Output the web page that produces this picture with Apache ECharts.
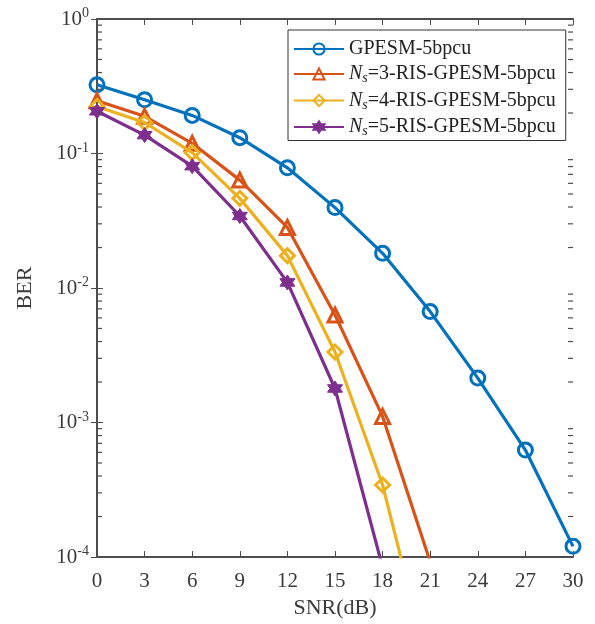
<!DOCTYPE html>
<html>
<head>
<meta charset="utf-8">
<script src="https://cdn.jsdelivr.net/npm/echarts@6/dist/echarts.min.js"></script>
<style>
  html, body { margin: 0; padding: 0; background: #fff; }
  #chart { width: 595px; height: 624px; }
</style>
</head>
<body>
<div id="chart"></div>
<script>
// SNR axis (dB)
const snr = [0, 3, 6, 9, 12, 15, 18, 21, 24, 27, 30]
const seriesNames = ['GPESM-5bpcu', 'Ns3', 'Ns4', 'Ns5']
// BER, points below 1e-4 are clipped by the axis
const berGpesm = [0.324, 0.251, 0.192, 0.131, 0.0783, 0.0396, 0.0181, 0.00668, 0.00214, 0.000624, 0.00012]
const berNs3 = [0.247, 0.189, 0.119, 0.0634, 0.0282, 0.0063, 0.00111, 0.000092, null, null, null]
const berNs4 = [0.224, 0.17, 0.1016, 0.0464, 0.0174, 0.00334, 0.000343, 0.0000135, null, null, null]
const berNs5 = [0.206, 0.137, 0.0805, 0.0343, 0.011, 0.00179, 0.000084, null, null, null, null]
const lineColor = ['#0072BD', '#D95319', '#EDB120', '#7E2F8E']
const legendText = {
  'GPESM-5bpcu': 'GPESM-5bpcu',
  'Ns3': '{i|N}{sub|s}=3-RIS-GPESM-5bpcu',
  'Ns4': '{i|N}{sub|s}=4-RIS-GPESM-5bpcu',
  'Ns5': '{i|N}{sub|s}=5-RIS-GPESM-5bpcu'
}

const hexagram = 'path://M10 0L12.89 5L18.66 5L15.77 10L18.66 15L12.89 15L10 20L7.11 15L1.34 15L4.23 10L1.34 5L7.11 5Z'
const font = 'Liberation Serif'
const axisColor = '#4d4d4d'
const textColor = '#3a3a3a'

// minor log ticks 2..9 x 10^n
const minorTicks = []
for (let e = -4; e < 0; e++) {
  for (let k = 2; k <= 9; k++) {
    minorTicks.push([15, k * Math.pow(10, e)])
  }
}

function pairs(ys) {
  return snr.map((x, i) => [x, ys[i]])
}

function makeSeries(name, ys, i, symbol, filled) {
  return {
    name: name,
    type: 'line',
    data: pairs(ys),
    symbol: symbol,
    symbolSize: filled ? 15 : 14,
    showAllSymbol: true,
    clip: true,
    lineStyle: { color: lineColor[i], width: 3.2 },
    itemStyle: {
      color: filled ? lineColor[i] : 'rgba(255,255,255,0)',
      borderColor: lineColor[i],
      borderWidth: filled ? 1 : 3
    },
    z: 3 + i
  }
}

const chart = echarts.init(document.getElementById('chart'))

const commonY = {
  type: 'log',
  logBase: 10,
  min: 1e-4,
  max: 1,
  axisLine: { show: true, lineStyle: { color: axisColor, width: 2 } },
  axisTick: { show: true, inside: true, length: 6, lineStyle: { color: axisColor, width: 1 } },
  splitLine: { show: false }
}

const commonX = {
  type: 'value',
  min: 0,
  max: 30,
  interval: 3,
  axisLine: { show: true, lineStyle: { color: axisColor, width: 2 } },
  axisTick: { show: true, inside: true, length: 6, lineStyle: { color: axisColor, width: 1 } },
  splitLine: { show: false }
}

chart.setOption({
  backgroundColor: '#fff',
  animation: false,
  grid: { left: 97, right: 22, top: 19, bottom: 65 },
  legend: {
    data: seriesNames,
    orient: 'vertical',
    left: 288,
    top: 30,
    padding: [9, 10, 2, 5],
    itemWidth: 50,
    itemHeight: 14,
    itemGap: 5,
    borderColor: '#333',
    borderWidth: 1,
    backgroundColor: '#fff',
    formatter: function (name) {
      return legendText[name]
    },
    textStyle: {
      fontFamily: font,
      fontSize: 20,
      color: '#222',
      rich: {
        i: { fontFamily: font, fontSize: 20, fontStyle: 'italic', color: '#222' },
        sub: { fontFamily: font, fontSize: 14, fontStyle: 'italic', color: '#222', verticalAlign: 'bottom', padding: [9, 0, 0, 0] }
      }
    }
  },
  xAxis: [
    Object.assign({}, commonX, {
      position: 'bottom',
      name: 'SNR(dB)',
      nameLocation: 'middle',
      nameGap: 40,
      nameTextStyle: { fontFamily: font, fontSize: 22, color: textColor },
      axisLabel: { fontFamily: font, fontSize: 21, color: textColor, margin: 14 }
    }),
    Object.assign({}, commonX, {
      position: 'top',
      axisLabel: { show: false }
    })
  ],
  yAxis: [
    Object.assign({}, commonY, {
      position: 'left',
      name: 'BER',
      nameLocation: 'middle',
      nameGap: 61,
      nameTextStyle: { fontFamily: font, fontSize: 22, color: textColor },
      axisLabel: {
        margin: 8,
        formatter: function (v) {
          const e = Math.round(Math.log10(v))
          return '{b|10}{s|' + e + '}'
        },
        rich: {
          b: { fontFamily: font, fontSize: 21, color: textColor },
          s: { fontFamily: font, fontSize: 14, color: textColor, padding: [0, 0, 11, 0] }
        }
      }
    }),
    Object.assign({}, commonY, {
      position: 'right',
      axisLabel: { show: false }
    })
  ],
  series: [
    makeSeries(seriesNames[0], berGpesm, 0, 'circle', false),
    makeSeries(seriesNames[1], berNs3, 1, 'triangle', false),
    makeSeries(seriesNames[2], berNs4, 2, 'diamond', false),
    makeSeries(seriesNames[3], berNs5, 3, hexagram, true),
    {
      type: 'custom',
      silent: true,
      clip: false,
      data: minorTicks,
      renderItem: function (params, api) {
        const y = api.coord([api.value(0), api.value(1)])[1]
        const x0 = params.coordSys.x
        const x1 = params.coordSys.x + params.coordSys.width
        const style = { stroke: axisColor, lineWidth: 1.2 }
        return {
          type: 'group',
          children: [
            { type: 'line', shape: { x1: x0, y1: y, x2: x0 + 5, y2: y }, style: style },
            { type: 'line', shape: { x1: x1, y1: y, x2: x1 - 5, y2: y }, style: style }
          ]
        }
      },
      z: 10
    }
  ]
})
</script>
</body>
</html>
